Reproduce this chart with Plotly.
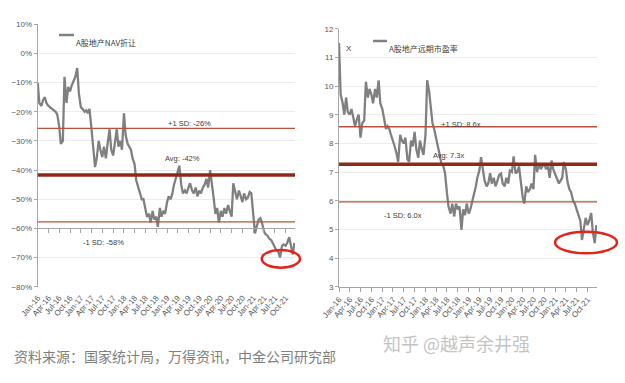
import pandas as pd
import plotly.graph_objects as go

# ---- data (two readings per month, Jan-2016 .. Dec-2021)
NAV_DISCOUNT = [
    -10, -17, -18, -16, -15, -17, -18, -18.5, -19, -19.5, -20, -21,
    -25, -31, -30, -8, -17, -11.5, -13, -11, -9, -8, -5, -13.7,
    -18.5, -19, -20, -19.5, -20.5, -19, -26, -31, -39, -36, -30, -33,
    -35.5, -32, -36, -31, -26, -33, -35, -31, -26, -32, -30, -33,
    -20.5, -28, -31, -32, -33, -36, -38, -43.5, -46, -48, -50, -50,
    -54, -56, -55, -58, -54, -57, -56, -59.5, -53, -56, -54, -55,
    -51, -49, -50, -48, -45, -43, -40, -38.5, -45, -48, -47, -48,
    -46, -44.5, -47, -48, -46, -49, -47, -48, -46, -45, -43, -46,
    -40, -44, -50, -55, -53, -58, -54, -56, -53, -55, -52, -54,
    -56, -44.5, -48, -50, -47, -49, -51, -48, -50, -49.5, -47.5, -48,
    -56, -61.7, -59, -57, -56.5, -58, -61, -62, -62.5, -63.5, -64, -65,
    -66, -67.5, -68, -70, -66, -65.5, -66, -65, -63, -66, -69, -65,
]
FORWARD_PE = [
    11.5, 9.7, 9.4, 9.0, 9.6, 9.1, 9.0, 9.2, 8.9, 8.6, 8.85, 9.0,
    8.2, 8.7, 8.8, 10.15, 9.6, 9.9, 9.7, 9.4, 9.9, 9.6, 10.2, 9.4,
    9.2, 8.9, 8.5, 8.6, 8.5, 8.3, 8.1, 7.9, 7.65, 7.35, 8.3, 8.1,
    8.0, 8.2, 7.45, 7.35, 8.1, 7.9, 8.4, 7.8, 7.5, 8.1, 7.8, 7.6,
    8.3, 10.2, 9.8, 9.3, 8.7, 8.5, 8.1, 7.9, 7.6, 7.3, 7.2, 6.96,
    6.27, 5.78, 5.55, 5.9, 5.45, 5.9, 5.7, 5.8, 4.98, 5.7, 5.5, 5.9,
    5.55, 5.7, 6.0, 6.2, 6.48, 6.8, 7.05, 7.52, 7.0, 6.7, 6.5, 6.6,
    6.96, 6.6, 6.8, 6.5, 6.7, 6.9, 6.95, 6.6, 6.5, 6.8, 6.6, 7.05,
    7.0, 7.55, 6.95, 7.0, 7.2, 6.65, 6.12, 5.9, 6.5, 6.3, 6.4, 6.6,
    6.4, 7.6, 7.0, 7.3, 7.1, 7.2, 7.3, 7.1, 7.2, 6.8, 7.4, 7.1,
    6.9, 6.8, 6.6, 6.7, 6.8, 7.35, 7.1, 6.65, 6.4, 6.3, 6.0, 5.9,
    5.7, 5.45, 5.3, 4.63, 5.0, 5.4, 5.15, 5.3, 5.57, 4.9, 4.52, 5.15,
]
DATES = pd.date_range("2016-01-01", periods=len(NAV_DISCOUNT), freq="SMS")

TICK_LABELS = ["Jan-16", "Apr-16", "Jul-16", "Oct-16", "Jan-17", "Apr-17", "Jul-17", "Oct-17",
               "Jan-18", "Apr-18", "Jul-18", "Oct-18", "Jan-19", "Apr-19", "Jul-19", "Oct-19",
               "Jan-20", "Apr-20", "Jul-20", "Oct-20", "Jan-21", "Apr-21", "Jul-21", "Oct-21"]
TICK_DATES = pd.date_range("2016-01-01", periods=len(TICK_LABELS), freq="QS")

NAV_STATS = {"+1 SD": -25.7, "Avg": -41.7, "-1 SD": -57.8}
NAV_STAT_TEXT = {"+1 SD": "+1 SD: -26%", "Avg": "Avg: -42%", "-1 SD": "-1 SD: -58%"}
PE_STATS = {"+1 SD": 8.58, "Avg": 7.27, "-1 SD": 5.96}
PE_STAT_TEXT = {"+1 SD": "+1 SD: 8.6x", "Avg": "Avg: 7.3x", "-1 SD": "-1 SD: 6.0x"}

NAV_NAME = "A股地产NAV折让"
PE_NAME = "A股地产远期市盈率"
SOURCE = "资料来源：国家统计局，万得资讯，中金公司研究部"
WATERMARK = "知乎 @越声余井强"

# ---- styling
W, H = 625, 383
def px(x):
    return x / W
def py(y):
    return 1 - y / H

SERIES_COLOR = "#808080"
SD_COLOR = "#B5533C"
AVG_COLOR = "#8E2A18"
GRID = "#ECECEC"
AXIS = "#A6A6A6"
TXT = "#404040"
FONT = "Liberation Sans, Arial, sans-serif"
CJK = "Noto Sans CJK SC"
X_RANGE = ["2016-01-01", "2021-12-20"]

fig = go.Figure()
fig.add_trace(go.Scatter(x=DATES, y=NAV_DISCOUNT, mode="lines", name=NAV_NAME,
                         line=dict(color=SERIES_COLOR, width=2.3), xaxis="x", yaxis="y",
                         showlegend=False))
fig.add_trace(go.Scatter(x=DATES, y=FORWARD_PE, mode="lines", name=PE_NAME,
                         line=dict(color=SERIES_COLOR, width=2.3), xaxis="x2", yaxis="y2",
                         showlegend=False))
# invisible trace so the crossing axis (-60%) is drawn
fig.add_trace(go.Scatter(x=[DATES[0]], y=[None], mode="lines", xaxis="x3", yaxis="y",
                         showlegend=False, hoverinfo="skip"))

tickfont = dict(family=FONT, size=8, color="#595959")
common_x = dict(type="date", range=X_RANGE, tickvals=TICK_DATES, ticktext=TICK_LABELS,
                tickangle=-50, tickfont=tickfont, showgrid=False, zeroline=False,
                automargin=False)

layout = dict(
    template="none",
    width=W, height=H, autosize=False, margin=dict(l=0, r=0, t=0, b=0, pad=0),
    paper_bgcolor="white", plot_bgcolor="white", showlegend=False,
    font=dict(family=FONT, size=8, color=TXT),
    xaxis=dict(domain=[px(37.7), px(295)], anchor="y", showline=False, ticks="",
               ticklabelstandoff=4, **common_x),
    xaxis3=dict(overlaying="x", anchor="free", position=py(228.3), matches="x",
                type="date", tickvals=TICK_DATES, showticklabels=False, showgrid=False,
                showline=True, linecolor=AXIS, linewidth=1, ticks="outside", ticklen=4,
                tickcolor=AXIS, zeroline=False, automargin=False),
    yaxis=dict(domain=[py(286.7), py(24.3)], anchor="x", range=[-80, 10], dtick=10,
               ticksuffix="%", tickfont=tickfont, showline=True, linecolor=AXIS,
               ticks="outside", ticklen=3, tickcolor=AXIS, gridcolor=GRID, zeroline=False,
               automargin=False),
    xaxis2=dict(domain=[px(339), px(597)], anchor="y2", showline=True, linecolor=AXIS,
                ticks="outside", ticklen=4, tickcolor=AXIS, ticklabelstandoff=0, **common_x),
    yaxis2=dict(domain=[py(286.7), py(28.7)], anchor="x2", range=[3, 12], dtick=1,
                tickfont=tickfont, showline=True, linecolor=AXIS, ticks="outside",
                ticklen=3, tickcolor=AXIS, gridcolor=GRID, zeroline=False, automargin=False),
)
fig.update_layout(**layout)

# statistic lines
for stats, xr, yr in [(NAV_STATS, "x", "y"), (PE_STATS, "x2", "y2")]:
    for key, val in stats.items():
        avg = key == "Avg"
        fig.add_shape(type="line", xref=f"{xr} domain", yref=yr, x0=0, x1=1, y0=val, y1=val,
                      line=dict(color=AVG_COLOR if avg else SD_COLOR, width=3.5 if avg else 1.3))

# stat labels
ann_font = dict(family=FONT, size=7.5, color=TXT)
nav_pos = {"+1 SD": (165.5, 117), "Avg": (162.5, 158), "-1 SD": (81, 242)}
pe_pos = {"+1 SD": (482.5, 118), "Avg": (465.5, 155), "-1 SD": (402.5, 215)}
for texts, pos in [(NAV_STAT_TEXT, nav_pos), (PE_STAT_TEXT, pe_pos)]:
    for key, t in texts.items():
        x, y = pos[key]
        fig.add_annotation(text=t, x=px(x), y=py(y), xref="paper", yref="paper",
                           showarrow=False, font=ann_font)

# legends (line sample + name)
for (x0, x1, y), name in [((59, 74, 35), NAV_NAME), ((373, 387, 41), PE_NAME)]:
    fig.add_shape(type="line", xref="paper", yref="paper", x0=px(x0), x1=px(x1),
                  y0=py(y), y1=py(y), line=dict(color=SERIES_COLOR, width=2.5))
    fig.add_annotation(text=name, x=px(x1), y=py(y), xref="paper", yref="paper",
                       xanchor="left", showarrow=False,
                       font=dict(family=CJK, size=8, color=TXT))
fig.add_annotation(text="X", x=px(349), y=py(41.7), xref="paper", yref="paper",
                   showarrow=False, font=dict(family=FONT, size=8, color=TXT))

# red highlight ellipses
for x0, x1, y0, y1 in [(261.7, 300, 250, 267.7), (555, 617, 231.7, 253.3)]:
    fig.add_shape(type="circle", xref="paper", yref="paper", x0=px(x0), x1=px(x1),
                  y0=py(y1), y1=py(y0), line=dict(color="#E3241B", width=2.5))

# source and watermark
fig.add_annotation(text=SOURCE, x=px(12), y=py(368), xref="paper", yref="paper",
                   xanchor="left", showarrow=False,
                   font=dict(family=CJK, size=14, color="#808080"))
fig.add_annotation(text=WATERMARK, x=px(532), y=py(358), xref="paper", yref="paper",
                   showarrow=False, font=dict(family=CJK, size=18, color="#C4C4C4"))

fig.write_html("out.html", config={"displayModeBar": False},
               post_script="document.body.style.margin='0';document.body.style.overflow='hidden';")
